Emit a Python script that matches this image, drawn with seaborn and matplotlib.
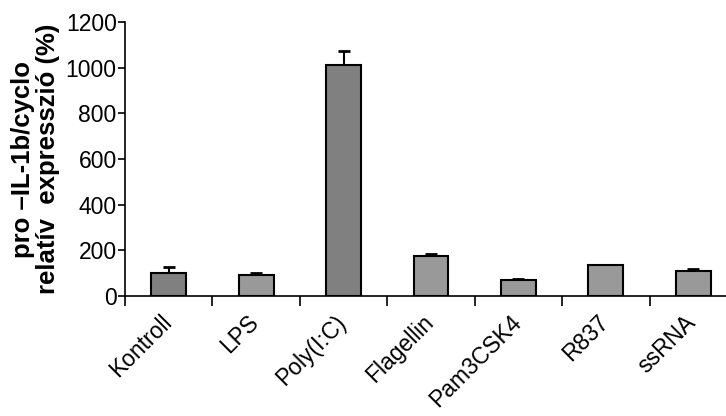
import numpy as np
import seaborn as sns
import matplotlib.pyplot as plt
from matplotlib.transforms import ScaledTranslation

# values
categories = ["Kontroll", "LPS", "Poly(I:C)", "Flagellin", "Pam3CSK4", "R837", "ssRNA"]
values = [101, 93, 1012, 176, 70, 135, 111]
errors = [26, 8, 60, 7, 3, 2, 8]
bar_colors = ["#808080", "#999999", "#808080", "#999999", "#999999", "#999999", "#999999"]

sns.set_style("ticks", {"text.color": "black", "axes.labelcolor": "black",
                        "xtick.color": "black", "ytick.color": "black",
                        "axes.edgecolor": "black"})
plt.rcParams['font.family'] = ['Liberation Sans', 'DejaVu Sans']

fig = plt.figure(figsize=(7.26, 4.16), dpi=100)
# axes spans 7 categories of ~87px each, starting at x=125; right side cut by the figure edge
ax = fig.add_axes([125 / 726, 120 / 416, 612 / 726, 274 / 416])

sns.barplot(x=categories, y=values, hue=categories, palette=bar_colors, legend=False,
            width=0.4, edgecolor="black", linewidth=1.5, ax=ax, zorder=2)
ax.errorbar(np.arange(len(categories)), values,
            yerr=[np.zeros(len(errors)), errors], fmt="none",
            ecolor="black", elinewidth=1.5, capsize=4.5, capthick=2, zorder=1)

ax.set_xlim(-0.5, len(categories) - 0.5)
ax.set_ylim(0, 1200)
ax.set_yticks(range(0, 1201, 200))
ax.tick_params(axis="y", labelsize=16.5, direction="out", length=5, width=1.2, pad=1)

# tick marks at category boundaries, labels at centres
ax.set_xticks(np.arange(len(categories)))
ax.set_xticklabels(categories, rotation=45, ha="right", rotation_mode="anchor", fontsize=16.5)
ax.tick_params(axis="x", which="major", length=0, pad=12)
ax.set_xticks(np.arange(-0.5, len(categories)), minor=True)
ax.tick_params(axis="x", which="minor", direction="out", length=7, width=1.2)
shift = ScaledTranslation(-9 / 100, 2 / 100, fig.dpi_scale_trans)
for lab in ax.get_xticklabels():
    lab.set_transform(lab.get_transform() + shift)

ax.set_ylabel("pro \u2013IL-1b/cyclo\nrelatív  expresszió (%)", fontsize=18.5,
              fontweight="bold", linespacing=1.05, labelpad=4)
ax.set_xlabel("")

sns.despine(ax=ax)
for side in ["left", "bottom"]:
    ax.spines[side].set_linewidth(1.2)
    ax.spines[side].set_color("black")

plt.savefig("out.png", dpi=100)
